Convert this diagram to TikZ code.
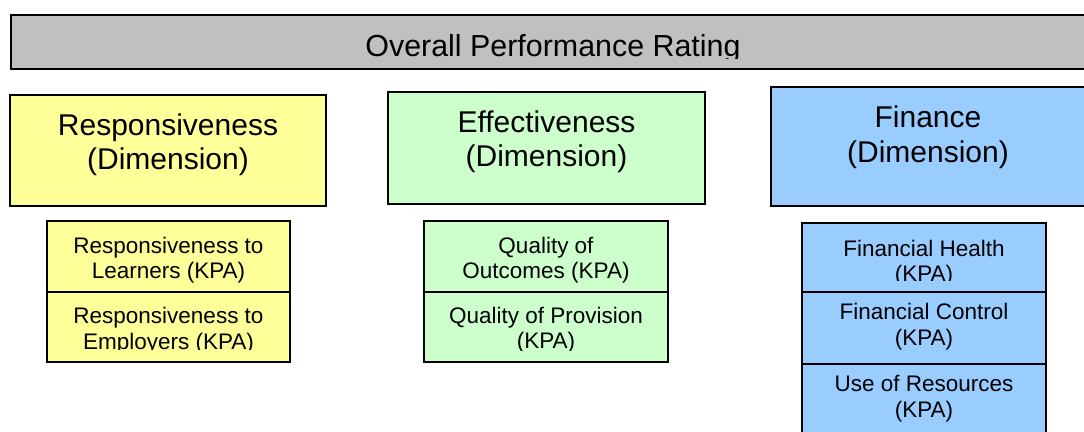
\documentclass[tikz,border=0pt]{standalone}
\usepackage{fontspec}
\setmainfont{Liberation Sans}
\definecolor{bargray}{HTML}{C0C0C0}
\definecolor{resyellow}{HTML}{FFFF99}
\definecolor{effgreen}{HTML}{CCFFCC}
\definecolor{finblue}{HTML}{99CCFF}
\tikzset{
  boxshape/.style={draw=black, line width=1.6pt, rectangle, inner sep=0pt, outer sep=0pt, anchor=north west},
  titletext/.style={anchor=base, inner sep=0pt, font=\fontsize{30.4}{34}\selectfont},
  dimtext/.style={anchor=base, inner sep=0pt, font=\fontsize{30}{34}\selectfont},
  kpatext/.style={anchor=base, inner sep=0pt, font=\fontsize{22.5}{26}\selectfont},
}
\begin{document}
\begin{tikzpicture}[x=1pt, y=-1pt]
\useasboundingbox (0,0) rectangle (1084,431);
% top bar
\node[boxshape, fill=bargray, minimum width=1088pt, minimum height=54pt] (top) at (11,15) {};
\begin{scope}
  \clip (11,15) rectangle (1099,58);
  \node[titletext] (toptxt) at (553,56) {Overall Performance Rating};
\end{scope}
% dimension boxes
\node[boxshape, fill=resyellow, minimum width=316pt, minimum height=111pt] (resdim) at (10,95) {};
\node[dimtext] (resdim1) at (168,135) {Responsiveness};
\node[dimtext] (resdim2) at (168,169) {(Dimension)};
\node[boxshape, fill=effgreen, minimum width=317pt, minimum height=112pt] (effdim) at (388,92) {};
\node[dimtext] (effdim1) at (546.5,132) {Effectiveness};
\node[dimtext] (effdim2) at (546.5,166) {(Dimension)};
\node[boxshape, fill=finblue, minimum width=330pt, minimum height=119pt] (findim) at (771,87) {};
\node[dimtext] (findim1) at (928,127) {Finance};
\node[dimtext] (findim2) at (928,162) {(Dimension)};
% responsiveness KPAs
\node[boxshape, fill=resyellow, minimum width=243pt, minimum height=71pt] (resk1) at (47,221) {};
\node[kpatext] (resk1a) at (168.5,253) {Responsiveness to};
\node[kpatext] (resk1b) at (168.5,278) {Learners (KPA)};
\node[boxshape, fill=resyellow, minimum width=243pt, minimum height=70pt] (resk2) at (47,292) {};
\begin{scope}
  \clip (47,292) rectangle (290,349);
  \node[kpatext] (resk2a) at (168.5,323.5) {Responsiveness to};
  \node[kpatext] (resk2b) at (168.5,349.5) {Employers (KPA)};
\end{scope}
% effectiveness KPAs
\node[boxshape, fill=effgreen, minimum width=244pt, minimum height=71pt] (effk1) at (424,221) {};
\node[kpatext] (effk1a) at (546,253) {Quality of};
\node[kpatext] (effk1b) at (546,278) {Outcomes (KPA)};
\node[boxshape, fill=effgreen, minimum width=244pt, minimum height=70pt] (effk2) at (424,292) {};
\begin{scope}
  \clip (424,292) rectangle (668,350.5);
  \node[kpatext] (effk2a) at (546,323) {Quality of Provision};
  \node[kpatext] (effk2b) at (546,348.5) {(KPA)};
\end{scope}
% finance KPAs
\node[boxshape, fill=finblue, minimum width=244pt, minimum height=69pt] (fink1) at (802,223) {};
\begin{scope}
  \clip (802,223) rectangle (1046,280);
  \node[kpatext] (fink1a) at (924,256) {Financial Health};
  \node[kpatext] (fink1b) at (924,281.5) {(KPA)};
\end{scope}
\node[boxshape, fill=finblue, minimum width=244pt, minimum height=72pt] (fink2) at (802,292) {};
\node[kpatext] (fink2a) at (924,319) {Financial Control};
\node[kpatext] (fink2b) at (924,345) {(KPA)};
\node[boxshape, fill=finblue, minimum width=244pt, minimum height=80pt] (fink3) at (802,364) {};
\node[kpatext] (fink3a) at (924,391) {Use of Resources};
\node[kpatext] (fink3b) at (924,417) {(KPA)};
\end{tikzpicture}
\end{document}
